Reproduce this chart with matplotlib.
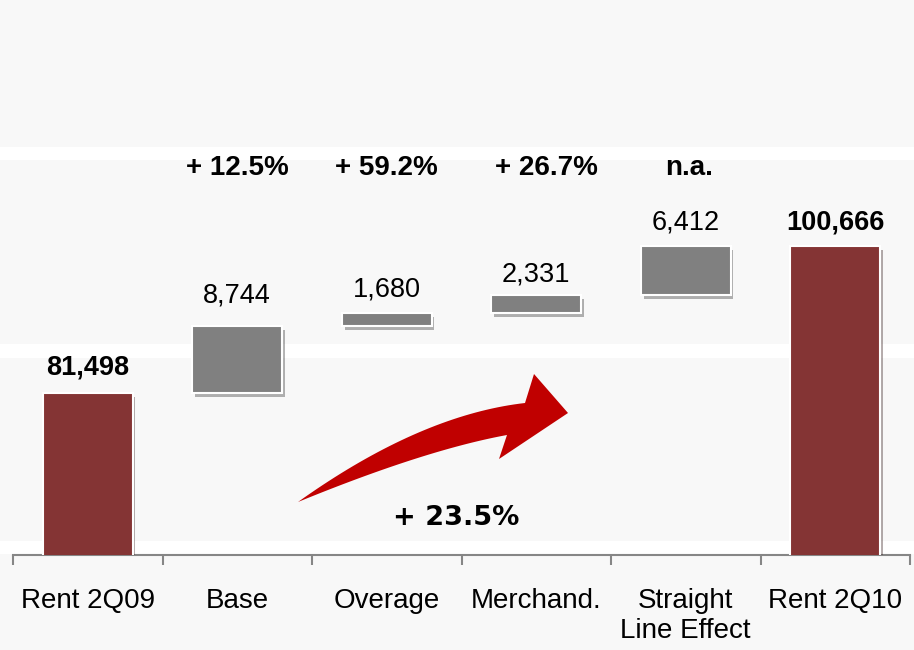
import numpy as np
import matplotlib
matplotlib.use('Agg')
import matplotlib.pyplot as plt
from matplotlib.patches import Rectangle, Polygon
import matplotlib.patheffects as pe

plt.rcParams['font.family'] = ['Liberation Sans', 'DejaVu Sans']

# rent bridge 2Q09 -> 2Q10
categorias = ['Rent 2Q09', 'Base', 'Overage', 'Merchand.', 'Straight\nLine Effect', 'Rent 2Q10']
inicio = 81498
fim = 100666
deltas = [8744, 1680, 2331, 6412]
variacoes = ['+ 12.5%', '+ 59.2%', '+ 26.7%', 'n.a.']
var_total = '+ 23.5%'

vermelho = '#843434'
cinza = '#808080'

fig = plt.figure(figsize=(9.14, 6.5), dpi=100, facecolor='#f8f8f8')

# faixas brancas do fundo
for y0, h in [(0.7538, 0.020), (0.4492, 0.0215), (0.1477, 0.020)]:
    fig.add_artist(Rectangle((0, y0), 1, h, transform=fig.transFigure,
                             facecolor='white', edgecolor='none', zorder=0))

ax = fig.add_axes([13/914., 95/650., 897/914., 405/650.])
ax.set_facecolor('none')

sombra = [pe.SimplePatchShadow(offset=(2, -3), alpha=0.35), pe.Normal()]

x = np.arange(len(categorias))
base = np.concatenate(([inicio], inicio + np.cumsum(deltas)[:-1]))

ax.bar([0, 5], [inicio, fim], width=0.6, color=vermelho, edgecolor='white',
       linewidth=1.5, path_effects=sombra, zorder=3)
ax.bar(x[1:5], deltas, bottom=base, width=0.6, color=cinza, edgecolor='white',
       linewidth=1.5, path_effects=sombra, zorder=3)

ax.set_ylim(60375, 113183)
ax.set_xlim(-0.5, 5.5)

# rotulos de valor
ax.annotate('{:,}'.format(inicio), (0, inicio), xytext=(0, 13), textcoords='offset points',
            ha='center', va='baseline', fontsize=19.5, fontweight='bold')
ax.annotate('{:,}'.format(fim), (5, fim), xytext=(0, 12), textcoords='offset points',
            ha='center', va='baseline', fontsize=19.5, fontweight='bold')
offs = [17, 12, 10, 12]
for i in range(4):
    ax.annotate('{:,}'.format(deltas[i]), (i + 1, base[i] + deltas[i]), xytext=(0, offs[i]),
                textcoords='offset points', ha='center', va='baseline', fontsize=19.5)

# variacoes percentuais
trans = ax.get_xaxis_transform()
xs_var = [1.0, 2.0, 3.07, 4.02]
for xv, txt in zip(xs_var, variacoes):
    ax.text(xv, 0.956, txt, transform=trans, ha='center', va='center',
            fontsize=20, fontweight='bold')

ax.text(0.494, 0.091, var_total, transform=ax.transAxes, ha='center', va='center',
        fontsize=19.5, fontweight='bold', family='DejaVu Sans')

# seta curva
def bez(p0, p1, p2, n=40):
    t = np.linspace(0, 1, n)[:, None]
    return (1 - t)**2 * np.array(p0) + 2 * (1 - t) * t * np.array(p1) + t**2 * np.array(p2)

sup = bez((298, 502), (420, 415), (525, 403))
inf = bez((298, 502), (425, 450), (507, 435))
pts = np.vstack([sup, [(534, 374), (568, 413), (499, 459)], inf[::-1]])
pts_fig = np.column_stack([pts[:, 0] / 914., 1 - pts[:, 1] / 650.])
fig.add_artist(Polygon(pts_fig, closed=True, transform=fig.transFigure,
                       facecolor='#c00000', edgecolor='none', zorder=5))

# eixos
for s in ['top', 'right', 'left']:
    ax.spines[s].set_visible(False)
ax.spines['bottom'].set_color('#868686')
ax.spines['bottom'].set_linewidth(1.5)
ax.set_yticks([])
ax.set_xticks(x)
ax.set_xticklabels(categorias, fontsize=20, linespacing=1.2)
ax.set_xticks(np.arange(-0.5, 6, 1), minor=True)
ax.tick_params(axis='x', which='major', length=0, pad=24)
ax.tick_params(axis='x', which='minor', length=7, width=1.5, color='#868686')

fig.savefig('out.png', dpi=100, facecolor=fig.get_facecolor())
